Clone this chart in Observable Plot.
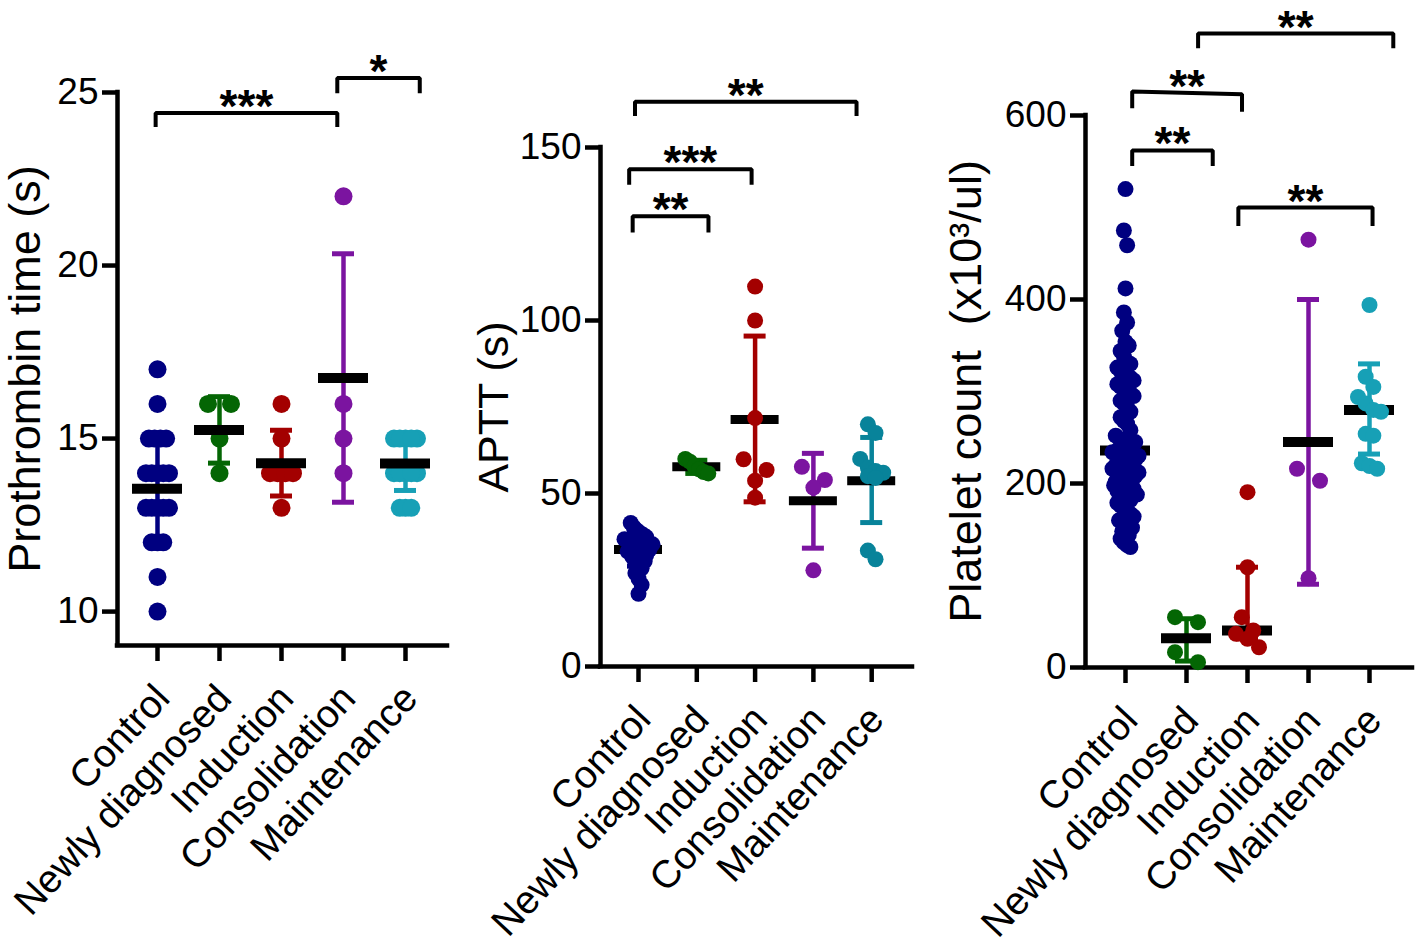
<!DOCTYPE html>
<html><head><meta charset="utf-8">
<script src="https://cdn.jsdelivr.net/npm/d3@7"></script>
<script src="https://cdn.jsdelivr.net/npm/@observablehq/plot@0.6"></script>
<style>
html,body{margin:0;background:#fff;}
#chart{position:relative;width:1418px;height:945px;overflow:hidden;background:#fff;}
#chart svg{position:absolute;top:0;}
</style></head><body><div id="chart"></div>
<script>
const groups = ["Control", "Newly diagnosed", "Induction", "Consolidation", "Maintenance"];

// ---- Panel A: Prothrombin time (s)
const ptControl = [17,16,15,15,15,15,14,14,14,14,14,13,13,13,13,13,12,12,12,11,10];
const ptNewly = [16,16,15,14];
const ptInduction = [16,15,14,14,14,14,13];
const ptConsolidation = [22,16,15,14];
const ptMaintenance = [15,15,15,15,15,14,14,14,14,14,13,13,13];
const ptCenter = [13.55, 15.25, 14.29, 16.75, 14.28];
const ptLow = [12.0, 14.29, 13.34, 13.16, 13.5];
const ptHigh = [15.1, 16.21, 15.24, 20.34, 15.0];
const ptTicks = [10, 15, 20, 25];
const ptBrackets = [
  {x1: -0.03, x2: 2.9, y1: 24.41, y2: 24.41, foot1: 24.0, foot2: 24.0, label: "***"},
  {x1: 2.9, x2: 4.23, y1: 25.42, y2: 25.42, foot1: 24.98, foot2: 24.98, label: "*"}
];

// ---- Panel B: APTT (s)
const apttControl = [41.5,40.2,39.3,38.6,38.0,37.4,36.8,36.3,35.8,35.3,34.8,34.3,33.8,33.3,32.8,32.3,31.8,31.2,30.5,29.6,28.4,27.0,25.4,23.6,21.0];
const apttNewly = [60.0,59.2,57.8,57.0,56.2,55.8];
const apttInduction = [109.8,100.0,71.8,59.9,56.8,53.7,48.8];
const apttConsolidation = [57.7,53.9,51.7,27.8];
const apttMaintenance = [70.0,67.5,60.0,57.5,56.5,56.0,55.0,54.5,33.5,31.0];
const apttCenter = [33.8, 57.7, 71.4, 47.9, 53.7];
const apttLow = [29.0, 55.8, 47.6, 34.2, 41.6];
const apttHigh = [38.6, 59.6, 95.5, 61.6, 66.2];
const apttTicks = [0, 50, 100, 150];
const apttBrackets = [
  {x1: -0.06, x2: 3.74, y1: 163.2, y2: 163.2, foot1: 159.1, foot2: 159.1, label: "**"},
  {x1: -0.16, x2: 1.94, y1: 143.7, y2: 143.7, foot1: 139.2, foot2: 139.2, label: "***"},
  {x1: -0.10, x2: 1.2, y1: 130.1, y2: 130.1, foot1: 125.4, foot2: 125.4, label: "**"}
];

// ---- Panel C: Platelet count (x10^3/ul)
const pltControl = [520,475,459,412,386,375,366,354,350,344,338,332,330,326,322,320,318,315,312,308,305,303,301,298,295,290,287,283,278,272,268,265,258,252,
  248,245,242,240,238,236,234,232,230,228,226,224,222,220,218,216,214,212,210,208,206,204,202,200,198,196,194,192,190,188,185,182,179,176,173,170,167,164,160,156,152,148,144,140,136,133,131];
const pltNewly = [54.7,49.3,16.7,5.8];
const pltInduction = [190.6,109.0,54.7,40.2,36.6,31.2,22.0];
const pltConsolidation = [465,216,203,97];
const pltMaintenance = [394,316,305,294,287,280,278,254,252,222,219,216];
const pltCenter = [236, 31.9, 40.2, 245, 280];
const pltLow = [160, 7, 31, 90.5, 232];
const pltHigh = [312, 53, 109, 400, 330];
const pltTicks = [0, 200, 400, 600];
const pltBrackets = [
  {x1: 1.19, x2: 4.39, y1: 689, y2: 689, foot1: 673, foot2: 673, label: "**"},
  {x1: 0.11, x2: 1.91, y1: 626, y2: 623, foot1: 608, foot2: 604, label: "**"},
  {x1: 0.11, x2: 1.43, y1: 562, y2: 562, foot1: 545, foot2: 545, label: "**"},
  {x1: 1.85, x2: 4.05, y1: 500, y2: 500, foot1: 480, foot2: 480, label: "**"}
];

const colorsMain = ["#000080", "#046604", "#a30000", "#7b14a0", "#17a0b6"];
const colorsAptt = ["#000080", "#046604", "#a30000", "#7b14a0", "#08839a"];

const FONT = "'Liberation Sans', Arial, Helvetica, sans-serif";

function gcd(a, b) { return b ? gcd(b, a % b) : a; }

// GraphPad-like scatter: bin points into rows, spread rows symmetrically
function swarm(values, yPx, binPx, spreadPx) {
  const items = values.map(v => ({v, py: yPx(v)})).sort((a, b) => a.py - b.py);
  const rows = [];
  for (const it of items) {
    const row = rows[rows.length - 1];
    if (row && it.py - row[0].py < binPx) row.push(it); else rows.push([it]);
  }
  const maxN = d3.max(rows, r => r.length);
  const step = maxN > 1 ? spreadPx / (maxN - 1) : 0;
  for (const row of rows) {
    const n = row.length;
    let s = Math.max(1, Math.floor(n / 2));
    while (s > 1 && gcd(s, n) !== 1) s--;
    row.forEach((it, k) => { const slot = (k * s) % n; it.off = (slot - (n - 1) / 2) * step; });
  }
  return items;
}

const panels = [
  {left: 0, width: 460, axisX: 117, rightX: 447, firstX: 157, stepX: 62,
   yMin: 9.02, yMax: 25, bottomPx: 645, topPx: 92, r: 9, barHalf: 25, barWidth: 10, barOnTop: true,
   title: "Prothrombin time (s)", titleDx: -92, titleSize: 45, ticks: ptTicks, spreads: [23, 23, 23, 23, 23],
   series: [ptControl, ptNewly, ptInduction, ptConsolidation, ptMaintenance],
   center: ptCenter, low: ptLow, high: ptHigh, brackets: ptBrackets, colors: colorsMain},
  {left: 460, width: 460, axisX: 140, rightX: 452, firstX: 178, stepX: 58.3,
   yMin: 0, yMax: 150, bottomPx: 666, topPx: 147, r: 8, barHalf: 24, barWidth: 9, barOnTop: false,
   title: "APTT (s)", titleDx: -106, titleSize: 43, ticks: apttTicks, spreads: [28, 23, 23, 23, 23],
   series: [apttControl, apttNewly, apttInduction, apttConsolidation, apttMaintenance],
   center: apttCenter, low: apttLow, high: apttHigh, brackets: apttBrackets, colors: colorsAptt},
  {left: 920, width: 498, axisX: 165, rightX: 492, firstX: 205, stepX: 61,
   yMin: 0, yMax: 600, bottomPx: 667, topPx: 115, r: 8, barHalf: 25, barWidth: 10, barOnTop: false,
   title: "Platelet count  (x10³/ul)", titleDx: -119, titleSize: 45, ticks: pltTicks, spreads: [26, 23, 23, 23, 23],
   series: [pltControl, pltNewly, pltInduction, pltConsolidation, pltMaintenance],
   center: pltCenter, low: pltLow, high: pltHigh, brackets: pltBrackets, colors: colorsMain}
];

function drawPanel(p) {
  const H = 945;
  const xLo = -(p.firstX - p.axisX) / p.stepX;
  const xHi = (p.rightX - p.firstX) / p.stepX;
  const yPx = d3.scaleLinear().domain([p.yMin, p.yMax]).range([p.bottomPx, p.topPx]);
  const points = [];
  p.series.forEach((vals, gi) => {
    swarm(vals, yPx, 16, p.spreads[gi]).forEach(it => points.push({group: groups[gi], x: gi + it.off / p.stepX, v: it.v}));
  });
  const stats = groups.map((g, i) => ({group: g, i, center: p.center[i], low: p.low[i], high: p.high[i]}));
  const capHalf = 11 / p.stepX, barHalf = p.barHalf / p.stepX;
  const bracketPts = p.brackets.flatMap((b, j) => [
    {j, x: b.x1, y: b.foot1}, {j, x: b.x1, y: b.y1}, {j, x: b.x2, y: b.y2}, {j, x: b.x2, y: b.foot2}
  ]);
  const errMarks = [
    Plot.ruleX(stats, {x: "i", y1: "low", y2: "high", stroke: "group", strokeWidth: 4.5}),
    Plot.ruleY(stats, {y: "low", x1: d => d.i - capHalf, x2: d => d.i + capHalf, stroke: "group", strokeWidth: 5}),
    Plot.ruleY(stats, {y: "high", x1: d => d.i - capHalf, x2: d => d.i + capHalf, stroke: "group", strokeWidth: 5})
  ];
  const dotMark = Plot.dot(points, {x: "x", y: "v", r: p.r, fill: "group"});
  const barMark = Plot.ruleY(stats, {y: "center", x1: d => d.i - barHalf, x2: d => d.i + barHalf, stroke: "black", strokeWidth: p.barWidth});
  const dataMarks = p.barOnTop ? [...errMarks, dotMark, barMark] : [...errMarks, barMark, dotMark];
  const idx = [0, 1, 2, 3, 4];

  const svg = Plot.plot({
    width: p.width, height: H,
    marginLeft: p.axisX, marginRight: p.width - p.rightX,
    marginTop: p.topPx, marginBottom: H - p.bottomPx,
    x: {domain: [xLo, xHi], label: null},
    y: {domain: [p.yMin, p.yMax], label: null},
    color: {domain: groups, range: p.colors},
    style: {fontFamily: FONT, background: "white", overflow: "visible", color: "black"},
    marks: [
      Plot.axisY(p.ticks, {anchor: "left", tickSize: 15, tickPadding: 4, strokeWidth: 4.5, fontSize: 37, label: null}),
      // tick marks only
      Plot.axisX(idx, {anchor: "bottom", tickSize: 16, strokeWidth: 4.5, label: null, tickFormat: () => ""}),
      // rotated category labels
      Plot.axisX(idx, {anchor: "bottom", tickSize: 0, tickPadding: 46, tickRotate: -47, fontSize: 39,
        label: null, tickFormat: i => groups[i], dx: 5}),
      Plot.ruleX([xLo], {y1: p.yMin, y2: p.yMax, strokeWidth: 4.5, strokeLinecap: "square"}),
      Plot.ruleY([p.yMin], {x1: xLo, x2: xHi, strokeWidth: 4.5, strokeLinecap: "square"}),
      Plot.text([p.title], {text: d => d, frameAnchor: "left", dx: p.titleDx, rotate: -90, fontSize: p.titleSize, textAnchor: "middle", lineAnchor: "middle"}),
      ...dataMarks,
      Plot.line(bracketPts, {x: "x", y: "y", z: "j", stroke: "black", strokeWidth: 4, strokeLinejoin: "miter", strokeLinecap: "butt"}),
      Plot.text(p.brackets, {x: d => (d.x1 + d.x2) / 2, y: d => (d.y1 + d.y2) / 2, text: "label", fontSize: 46, fontWeight: "bold",
        lineAnchor: "bottom", dy: 9, textAnchor: "middle"})
    ]
  });
  svg.style.left = p.left + "px";
  document.getElementById("chart").appendChild(svg);
}

panels.forEach(drawPanel);
</script>
</body></html>
